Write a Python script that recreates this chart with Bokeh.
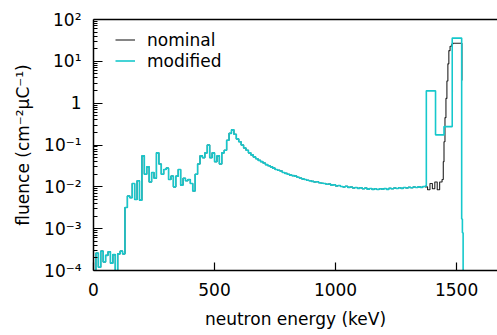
from bokeh.plotting import figure
from bokeh.models import (Range1d, FixedTicker, LinearAxis, LogAxis,
                          CustomJSTickFormatter, Legend, LegendItem)
from bokeh.embed import file_html
from bokeh.resources import INLINE

# ---------------- data (fluence per 10 keV bin, lower bin edges in keV) ----
bin_width_kev = 10
shared_values = [
    1e-6, 2.6e-4, 1.2e-4, 2.9e-4, 1.6e-4, 2.3e-4, 2.8e-4, 1.5e-4, 2.4e-4, 1e-6,      # 0-90
    2.5e-4, 2.9e-4, 2.5e-4, 3.2e-3, 6.0e-3, 5.5e-3, 1.2e-2, 5.0e-3, 1.4e-2, 4.8e-3,  # 100-190
    5.5e-2, 2.0e-2, 3.0e-2, 1.3e-2, 2.2e-2, 1.6e-2, 6.5e-2, 3.5e-2, 2.0e-2, 2.6e-2,  # 200-290
    2.8e-2, 1.5e-2, 1.8e-2, 1.0e-2, 1.8e-2, 2.6e-2, 1.1e-2, 1.6e-2, 1.4e-2, 1.5e-2,  # 300-390
    1.2e-2, 8.0e-3, 2.0e-2, 3.5e-2, 5.5e-2, 5.0e-2, 6.5e-2, 1.0e-1, 5.0e-2, 6.5e-2,  # 400-490
    4.0e-2, 5.5e-2, 3.5e-2, 6.5e-2, 7.5e-2, 1.3e-1, 1.9e-1, 2.3e-1, 1.8e-1, 1.4e-1,  # 500-590
    1.2e-1, 1.0e-1, 8.5e-2, 7.5e-2, 6.5e-2, 5.8e-2, 5.2e-2, 4.7e-2, 4.3e-2, 4.0e-2,  # 600-690
    3.7e-2, 3.4e-2, 3.2e-2, 3.0e-2, 2.8e-2, 2.6e-2, 2.5e-2, 2.4e-2, 2.2e-2, 2.1e-2,  # 700-790
    2.0e-2, 1.9e-2, 1.85e-2, 1.8e-2, 1.7e-2, 1.62e-2, 1.55e-2, 1.5e-2, 1.44e-2, 1.4e-2,  # 800-890
    1.35e-2, 1.3e-2, 1.32e-2, 1.25e-2, 1.22e-2, 1.2e-2, 1.15e-2, 1.17e-2, 1.1e-2, 1.12e-2,  # 900-990
    1.05e-2, 1.08e-2, 1.02e-2, 1.0e-2, 1.03e-2, 0.97e-2, 0.99e-2, 0.94e-2, 0.96e-2, 0.92e-2,  # 1000-1090
    0.95e-2, 0.9e-2, 0.93e-2, 0.88e-2, 0.91e-2, 0.87e-2, 0.9e-2, 0.86e-2, 0.9e-2, 0.88e-2,  # 1100-1190
    0.91e-2, 0.87e-2, 0.92e-2, 0.9e-2, 0.94e-2, 0.91e-2, 0.95e-2, 0.92e-2, 0.96e-2, 0.94e-2,  # 1200-1290
    0.97e-2, 0.95e-2, 0.99e-2, 0.96e-2, 1.0e-2, 0.97e-2, 1.02e-2,                          # 1300-1360
]
shared_energy = [i * bin_width_kev for i in range(len(shared_values))]

nominal_tail_energy = [1370, 1380, 1390, 1400, 1410, 1420, 1430, 1440, 1445, 1448,
                       1452, 1456, 1460, 1464, 1468, 1473, 1480, 1485, 1522]
nominal_tail_values = [1.0e-2, 0.85e-2, 1.2e-2, 0.9e-2, 1.3e-2, 0.85e-2, 1.3e-2, 1.5e-2, 4e-2, 1.2e-1,
                       4.5e-1, 1.3, 3.4, 8.7, 18, 23, 26, 27, 3.5]

modified_tail_energy = [1370, 1375, 1413, 1448, 1482, 1521, 1524, 1527]
modified_tail_values = [1.05e-2, 1.97, 0.175, 0.275, 35.9, 1.7e-3, 8e-4, 1e-6]

x_ticks = [0, 500, 1000, 1500]
y_ticks = [1e-4, 1e-3, 1e-2, 1e-1, 1, 10, 100]
y_minor = [k * 10.0 ** n for n in range(-4, 2) for k in range(2, 10)]

nominal_x = shared_energy + nominal_tail_energy
nominal_y = shared_values + nominal_tail_values
modified_x = shared_energy + modified_tail_energy
modified_y = shared_values + modified_tail_values

# ---------------- figure ----------------
FONT = "DejaVu Sans"
p = figure(width=497, height=335, output_backend="svg", toolbar_location=None,
           x_range=Range1d(0, 1669), y_range=Range1d(1e-4, 1e2),
           y_axis_type="log", x_axis_location=None, y_axis_location=None,
           min_border_left=93, min_border_right=0, min_border_top=19,
           min_border_bottom=65)
p.outline_line_color = None
p.xgrid.visible = False
p.ygrid.visible = False
p.background_fill_color = "white"
p.border_fill_color = "white"

r_nom = p.step(x=nominal_x, y=nominal_y, mode="after", line_color="#222222", line_width=1.1)
r_mod = p.step(x=modified_x, y=modified_y, mode="after", line_color="#16c8cc", line_width=1.6)

xaxis = LinearAxis(ticker=FixedTicker(ticks=x_ticks, minor_ticks=[]),
                   axis_label="neutron energy (keV)")
yaxis = LogAxis(ticker=FixedTicker(ticks=y_ticks, minor_ticks=y_minor),
                axis_label="fluence (cm⁻²μC⁻¹)",
                formatter=CustomJSTickFormatter(code="""
const e = Math.round(Math.log10(tick));
if (e == 0) { return "1"; }
const sup = {"-": "\u207b", "0": "\u2070", "1": "\u00b9", "2": "\u00b2", "3": "\u00b3", "4": "\u2074"};
return "10" + String(e).split("").map(c => sup[c]).join("");
"""))
for ax in (xaxis, yaxis):
    ax.axis_line_color = "black"
    ax.axis_line_width = 1.5
    ax.major_tick_line_color = "black"
    ax.major_tick_line_width = 1.2
    ax.minor_tick_line_color = "black"
    ax.major_tick_out = 0
    ax.minor_tick_out = 0
    ax.major_label_text_font = FONT
    ax.major_label_text_font_size = "17px"
    ax.major_label_text_color = "black"
    ax.axis_label_text_font = FONT
    ax.axis_label_text_font_size = "17px"
    ax.axis_label_text_font_style = "normal"
    ax.axis_label_text_color = "black"
xaxis.major_tick_in = 8
xaxis.minor_tick_in = 0
xaxis.major_label_standoff = 12
xaxis.axis_label_standoff = 10
yaxis.major_tick_in = 9
yaxis.minor_tick_in = 4
yaxis.major_label_standoff = 12
yaxis.axis_label_standoff = 8

top = LinearAxis(ticker=FixedTicker(ticks=[]), axis_line_color="black", axis_line_width=1.5,
                 major_tick_in=0, major_tick_out=0, minor_tick_in=0, minor_tick_out=0)
p.add_layout(xaxis, "below")
p.add_layout(yaxis, "left")
p.add_layout(top, "above")

legend = Legend(items=[LegendItem(label="nominal", renderers=[r_nom]),
                       LegendItem(label="modified", renderers=[r_mod])],
                location=(22, 199), orientation="vertical",
                border_line_color=None, background_fill_alpha=0,
                label_text_font=FONT, label_text_font_size="17px", label_text_color="black",
                glyph_width=20, glyph_height=21, label_height=21, spacing=0,
                label_standoff=12, padding=0, margin=0)
p.add_layout(legend, "center")

open("out.html", "w").write(file_html(p, INLINE))
